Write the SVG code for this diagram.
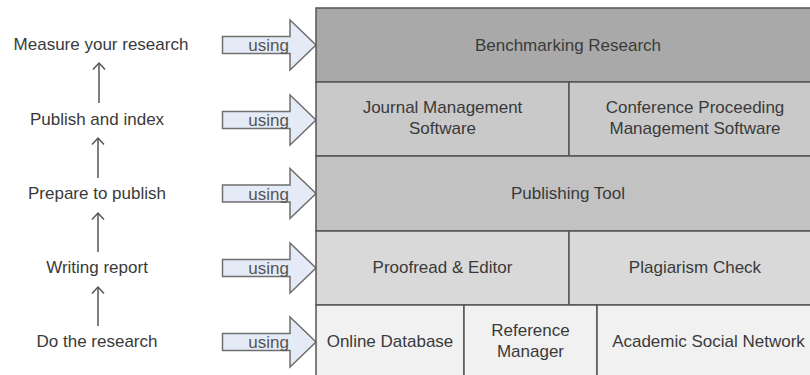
<svg xmlns="http://www.w3.org/2000/svg" width="810" height="375" viewBox="0 0 810 375">
<defs>
<style>
.t{font-family:"Liberation Sans",Arial,sans-serif;font-size:17px;fill:#3a3a3a;text-anchor:middle}
.u{font-family:"Liberation Sans",Arial,sans-serif;font-size:17px;fill:#555;text-anchor:end}
.cell{stroke:#555;stroke-width:1.5}
.ar{fill:#e5ebf6;stroke:#6f6f6f;stroke-width:1.5;stroke-linejoin:miter}
.up{stroke:#555;stroke-width:1.5;fill:none}
</style>
<marker id="head" viewBox="-8 -8 10 16" refX="0" refY="0" markerWidth="10" markerHeight="16" markerUnits="userSpaceOnUse" orient="auto" overflow="visible">
<path d="M-6.5,-6 L0,0 L-6.5,6" fill="none" stroke="#555" stroke-width="1.5"/>
</marker>
<path id="arrow" d="M0,-8.5 H67.5 V-25 L93.5,0 L67.5,25 V8.5 H0 Z"/>
</defs>
<rect width="810" height="375" fill="#fff"/>

<g id="steps">
<g id="step-measure"><text class="t" x="101" y="50">Measure your research</text></g>
<g id="step-publish"><text class="t" x="97" y="125">Publish and index</text></g>
<g id="step-prepare"><text class="t" x="97" y="199">Prepare to publish</text></g>
<g id="step-writing"><text class="t" x="97" y="273">Writing report</text></g>
<g id="step-research"><text class="t" x="97" y="347">Do the research</text></g>
</g>

<g id="connectors">
<line class="up" x1="99" y1="103" x2="99" y2="63" marker-end="url(#head)"/>
<line class="up" x1="98" y1="178" x2="98" y2="138" marker-end="url(#head)"/>
<line class="up" x1="98" y1="252" x2="98" y2="213" marker-end="url(#head)"/>
<line class="up" x1="98" y1="326" x2="98" y2="287" marker-end="url(#head)"/>
</g>

<g id="using-arrows">
<g id="using-1"><use href="#arrow" class="ar" x="222.5" y="45"/><text class="u" x="289" y="51">using</text></g>
<g id="using-2"><use href="#arrow" class="ar" x="222.5" y="120"/><text class="u" x="289" y="126">using</text></g>
<g id="using-3"><use href="#arrow" class="ar" x="222.5" y="193.5"/><text class="u" x="289" y="199.5">using</text></g>
<g id="using-4"><use href="#arrow" class="ar" x="222.5" y="268"/><text class="u" x="289" y="274">using</text></g>
<g id="using-5"><use href="#arrow" class="ar" x="222.5" y="342"/><text class="u" x="289" y="348">using</text></g>
</g>

<g id="benchmarking">
<rect class="cell" x="316" y="8" width="510" height="74" fill="#a9a9a9"/>
<text class="t" x="568" y="51">Benchmarking Research</text>
</g>
<g id="journal">
<rect class="cell" x="316" y="82" width="253" height="74" fill="#c9c9c9"/>
<text class="t" x="442.5" y="113">Journal Management</text>
<text class="t" x="442.5" y="134">Software</text>
</g>
<g id="conference">
<rect class="cell" x="569" y="82" width="257" height="74" fill="#c9c9c9"/>
<text class="t" x="695" y="113">Conference Proceeding</text>
<text class="t" x="695" y="134">Management Software</text>
</g>
<g id="publishing">
<rect class="cell" x="316" y="156" width="510" height="75" fill="#c2c2c2"/>
<text class="t" x="568" y="199">Publishing Tool</text>
</g>
<g id="proofread">
<rect class="cell" x="316" y="231" width="253" height="74" fill="#d9d9d9"/>
<text class="t" x="442.5" y="273">Proofread &amp; Editor</text>
</g>
<g id="plagiarism">
<rect class="cell" x="569" y="231" width="257" height="74" fill="#d9d9d9"/>
<text class="t" x="695" y="273">Plagiarism Check</text>
</g>
<g id="online-db">
<rect class="cell" x="316" y="305" width="148" height="80" fill="#f1f1f1"/>
<text class="t" x="390" y="347">Online Database</text>
</g>
<g id="ref-manager">
<rect class="cell" x="464" y="305" width="133" height="80" fill="#f1f1f1"/>
<text class="t" x="530.5" y="336">Reference</text>
<text class="t" x="530.5" y="357">Manager</text>
</g>
<g id="social-network">
<rect class="cell" x="597" y="305" width="229" height="80" fill="#f1f1f1"/>
<text class="t" x="708.5" y="347">Academic Social Network</text>
</g>
</svg>
